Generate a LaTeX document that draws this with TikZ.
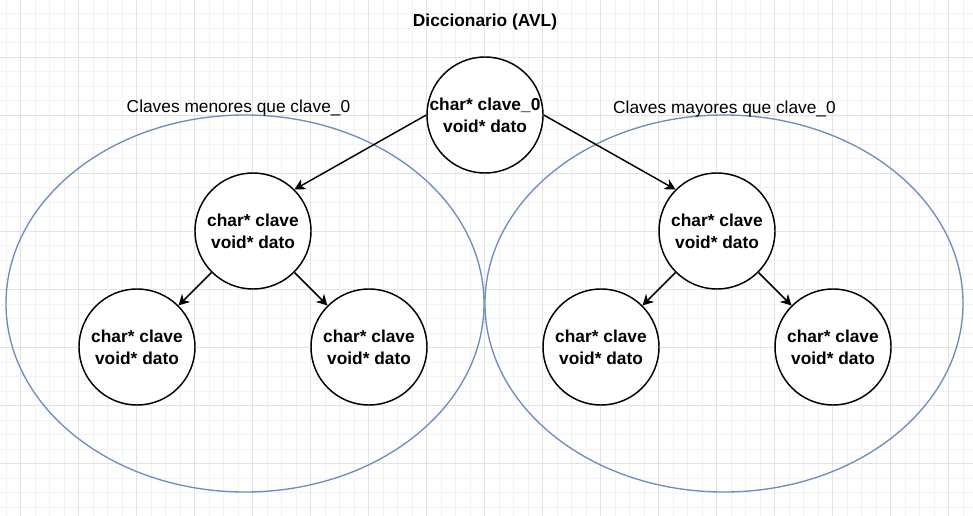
\documentclass[tikz,border=0pt]{standalone}
\usepackage{fontspec}
\setmainfont{Liberation Sans}
\usetikzlibrary{arrows.meta,shapes.geometric}

\definecolor{gridmenor}{HTML}{F2F2F2}
\definecolor{gridmayor}{HTML}{E2E2E2}
\definecolor{azul}{HTML}{6C8EBF}

\tikzstyle{nodo} = [circle, draw, fill=white, line width=1.1pt, minimum size=87pt, inner sep=0pt, align=center, font=\fontsize{13}{16.3}\selectfont\bfseries]
\tikzstyle{zona} = [ellipse, draw=azul, line width=1pt, inner sep=0pt, minimum width=358.5pt, minimum height=282.75pt]
\tikzstyle{rotulo} = [anchor=base, inner sep=0pt, font=\fontsize{13}{16}\selectfont]
\tikzstyle{ramaizq} = [edge from parent path={(\tikzparentnode.west) -- (\tikzchildnode.north east)}]
\tikzstyle{ramader} = [edge from parent path={(\tikzparentnode.east) -- (\tikzchildnode.north west)}]
\tikzstyle{hojaizq} = [edge from parent path={(\tikzparentnode.south west) -- (\tikzchildnode.north east)}]
\tikzstyle{hojader} = [edge from parent path={(\tikzparentnode.south east) -- (\tikzchildnode.north west)}]

\begin{document}
\begin{tikzpicture}[x=0.75pt, y=-0.75pt, grow=down, level distance=87pt,
    level 1/.style={sibling distance=348pt},
    level 2/.style={sibling distance=174pt},
    edge from parent/.style={draw, line width=1.1pt, -{Stealth[length=8pt, width=8.5pt, inset=2.5pt]}}]
\useasboundingbox (0,0) rectangle (973,516);
\fill[white] (0,0) rectangle (973,516);
\begin{scope}
\clip (0,0) rectangle (973,516);
% grid
\foreach \gx in {6,20.5,...,980} \draw[gridmenor, line width=0.75pt] (\gx,0) -- (\gx,516);
\foreach \gy in {14,28.5,...,520} \draw[gridmenor, line width=0.75pt] (0,\gy) -- (973,\gy);
\foreach \gx in {20.5,78.5,...,980} \draw[gridmayor, line width=0.75pt] (\gx,0) -- (\gx,516);
\foreach \gy in {57.5,115.5,...,520} \draw[gridmayor, line width=0.75pt] (0,\gy) -- (973,\gy);
\end{scope}

\node[zona] (menores) at (245,303.5) {};
\node[zona] (mayores) at (724,303.5) {};
\node[rotulo] (tmenores) at (238.5,113) {Claves menores que clave\_0};
\node[rotulo] (tmayores) at (724.5,114) {Claves mayores que clave\_0};
\node[rotulo, font=\fontsize{13}{16}\selectfont\bfseries] (titulo) at (485,26.5) {Diccionario (AVL)};

\node[nodo] (raiz) at (485,115) {char* clave\_0\\void* dato}
    child[ramaizq] {
        node[nodo] (izq) {char* clave\\void* dato}
        child[hojaizq] {
            node[nodo] (izqizq) {char* clave\\void* dato}
        }
        child[hojader] {
            node[nodo] (izqder) {char* clave\\void* dato}
        }
    }
    child[ramader] {
        node[nodo] (der) {char* clave\\void* dato}
        child[hojaizq] {
            node[nodo] (derizq) {char* clave\\void* dato}
        }
        child[hojader] {
            node[nodo] (derder) {char* clave\\void* dato}
        }
    };
\end{tikzpicture}
\end{document}
